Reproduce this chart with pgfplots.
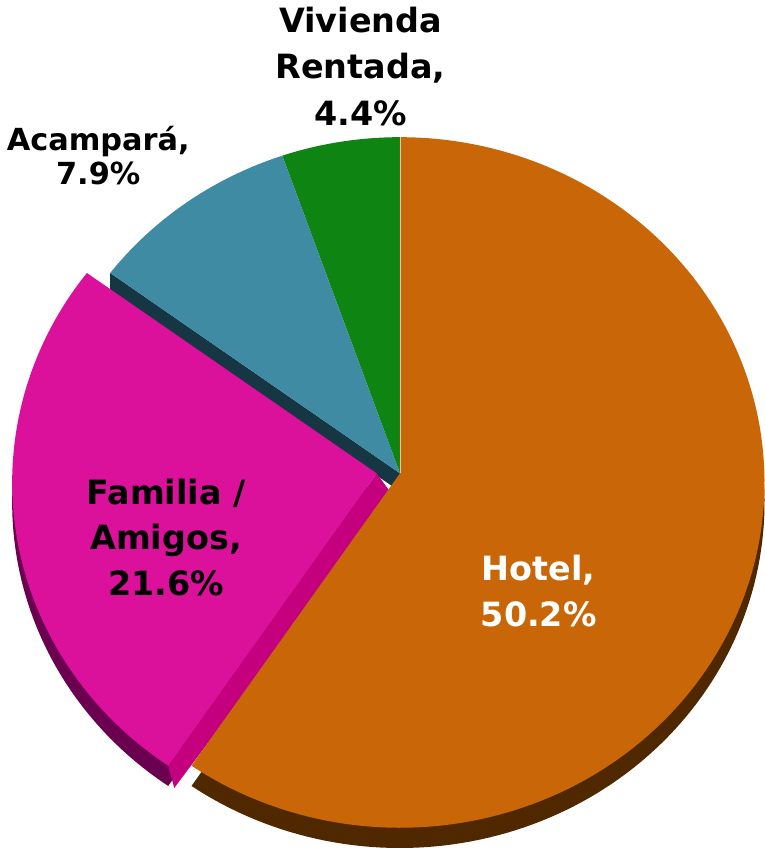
\documentclass[border=0pt]{standalone}
\usepackage{pgfplots}
\pgfplotsset{compat=1.18}
\usepackage{pgfplotstable}
\usepackage{fontspec}
\setmainfont{DejaVu Sans}
\definecolor{hotel}{RGB}{201,103,8}
\definecolor{hoteldepth}{RGB}{80,40,0}
\definecolor{fam}{RGB}{219,16,155}
\definecolor{famside}{RGB}{196,0,127}
\definecolor{famdepth}{RGB}{107,0,80}
\definecolor{acam}{RGB}{62,139,163}
\definecolor{acamside}{RGB}{21,54,66}
\definecolor{viv}{RGB}{14,132,18}
\pgfplotstableread{
label value
Hotel 50.2
Familia 21.6
Acampara 7.9
Vivienda 4.4
}\datatable
\begin{document}
\begin{tikzpicture}
\pgfplotstablegetelem{0}{value}\of\datatable \let\vA\pgfplotsretval
\pgfplotstablegetelem{1}{value}\of\datatable \let\vB\pgfplotsretval
\pgfplotstablegetelem{2}{value}\of\datatable \let\vC\pgfplotsretval
\pgfplotstablegetelem{3}{value}\of\datatable \let\vD\pgfplotsretval
\pgfmathsetmacro{\tot}{\vA+\vB+\vC+\vD}
\pgfmathsetmacro{\aA}{\vA/\tot*360}
\pgfmathsetmacro{\aB}{\aA+\vB/\tot*360}
\pgfmathsetmacro{\aC}{\aB+\vC/\tot*360}
\def\cx{398}\def\cy{483}\def\rx{360}\def\ry{341}
\def\ax{398}\def\ay{474}\def\dep{20}
\def\fx{-23}\def\fy{0}
% Familia rim/apex points
\pgfmathsetmacro{\fax}{\ax+\fx}\pgfmathsetmacro{\fay}{\ay+\fy}
\pgfmathsetmacro{\frx}{\cx+\fx+\rx*sin(\aA)}\pgfmathsetmacro{\fry}{\cy+\fy-\ry*cos(\aA)}
\pgfmathsetmacro{\frxb}{\frx+6}\pgfmathsetmacro{\fryb}{\fry+22}
\pgfmathsetmacro{\faxb}{\fax+16}\pgfmathsetmacro{\fayb}{\fay+22}
% Acampara rim point at its Familia-side edge
\pgfmathsetmacro{\crx}{\cx+\rx*sin(\aB)}\pgfmathsetmacro{\cry}{\cy-\ry*cos(\aB)}
\pgfmathsetmacro{\cryb}{\cry+18}\pgfmathsetmacro{\ayb}{\ay+18}
\begin{axis}[
  scale only axis, width=379pt, height=424pt,
  xmin=0, xmax=758, ymin=0, ymax=848, y dir=reverse,
  hide axis, clip=false,
]
% depths
\addplot[fill=hoteldepth, draw=none, domain=0:\aA, samples=150]
  ({\cx+\rx*sin(x)},{\cy+\dep-\ry*cos(x)}) -- (\ax,\ay+\dep) -- cycle;
\addplot[fill=acamside, draw=none] coordinates {(\ax,\ay) (\crx,\cry) (\crx,\cryb) (\ax,\ayb)} -- cycle;
\addplot[fill=famdepth, draw=none, domain=\aA:\aB, samples=80]
  ({\cx+\fx+\rx*sin(x)},{\cy+\fy+\dep-\ry*cos(x)}) -- (\fax,\fay+\dep) -- cycle;
\addplot[fill=famside, draw=none] coordinates {(\fax,\fay) (\frx,\fry) (\frxb,\fryb) (\faxb,\fayb)} -- cycle;
% tops
\addplot[fill=viv, draw=none, domain=\aC:360, samples=40]
  ({\cx+\rx*sin(x)},{\cy-\ry*cos(x)}) -- (\ax,\ay) -- cycle;
\addplot[fill=acam, draw=none, domain=\aB:\aC, samples=50]
  ({\cx+\rx*sin(x)},{\cy-\ry*cos(x)}) -- (\ax,\ay) -- cycle;
\addplot[fill=fam, draw=none, domain=\aA:\aB, samples=80]
  ({\cx+\fx+\rx*sin(x)},{\cy+\fy-\ry*cos(x)}) -- (\fax,\fay) -- cycle;
\addplot[fill=hotel, draw=none, domain=0:\aA, samples=150]
  ({\cx+\rx*sin(x)},{\cy-\ry*cos(x)}) -- (\ax,\ay) -- cycle;
\addplot[draw=white!60!hotel, line width=0.4pt] coordinates {(\ax,\ay) (\cx,\cy-\ry)};
% labels
\node[font=\bfseries\fontsize{16.5}{23}\selectfont, align=center] at (359,72) {Vivienda\\Rentada,\\4.4\%};
\node[font=\bfseries\fontsize{15}{17}\selectfont, align=center] at (100,160) {Acampará,\\7.9\%};
\node[font=\bfseries\fontsize{16.5}{22.5}\selectfont, align=center] at (167,537) {Familia /\\Amigos,\\21.6\%};
\node[font=\bfseries\fontsize{16.5}{22.5}\selectfont, align=center, text=white] at (535,590) {Hotel,\\50.2\%};
\end{axis}
\end{tikzpicture}
\end{document}
